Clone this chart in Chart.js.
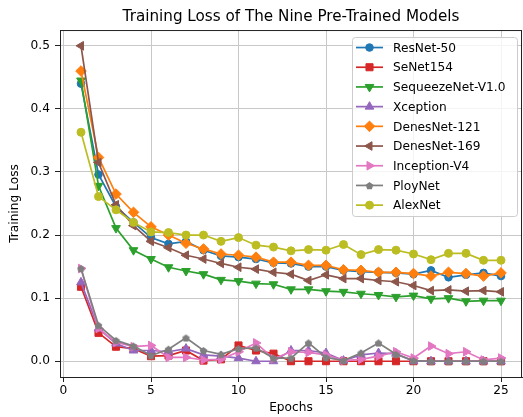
<!DOCTYPE html>
<html>

<head>
    <title>Training Loss</title>
    <script src="https://cdn.jsdelivr.net/npm/chart.js"></script>
    <style>
        body {
            margin: 0;
            background: #fff;
        }
    </style>
</head>

<body>
    <canvas id="lossChart" width="523" height="417"></canvas>

    <script>
        // epochs 1..25
        const epochs = [1, 2, 3, 4, 5, 6, 7, 8, 9, 10, 11, 12, 13, 14, 15, 16, 17, 18, 19, 20, 21, 22, 23, 24, 25];
        const xTicks = [0, 5, 10, 15, 20, 25];
        const yTicks = [0.0, 0.1, 0.2, 0.3, 0.4, 0.5];

        const resnet50 = [0.44, 0.296, 0.245, 0.22, 0.196, 0.186, 0.19, 0.176, 0.167, 0.165, 0.162, 0.156, 0.155, 0.15, 0.15, 0.144, 0.142, 0.141, 0.14, 0.138, 0.144, 0.133, 0.137, 0.14, 0.135];
        const senet154 = [0.118, 0.045, 0.023, 0.02, 0.008, 0.009, 0.017, 0.001, 0.003, 0.025, 0.017, 0.012, 0, 0, 0, 0, 0, 0, 0, 0, 0, 0, 0, 0, 0];
        const squeezeNet = [0.445, 0.278, 0.211, 0.176, 0.162, 0.149, 0.143, 0.138, 0.129, 0.127, 0.123, 0.122, 0.114, 0.114, 0.111, 0.11, 0.107, 0.105, 0.102, 0.104, 0.099, 0.1, 0.095, 0.096, 0.096];
        const xception = [0.125, 0.052, 0.028, 0.017, 0.017, 0.015, 0.02, 0.01, 0.008, 0.005, 0, 0, 0.017, 0.017, 0.013, 0.001, 0.01, 0.013, 0.012, 0, 0, 0, 0, 0, 0];
        const densenet121 = [0.46, 0.323, 0.265, 0.236, 0.213, 0.2, 0.187, 0.178, 0.17, 0.168, 0.165, 0.157, 0.157, 0.152, 0.152, 0.145, 0.144, 0.141, 0.141, 0.139, 0.135, 0.141, 0.139, 0.135, 0.14];
        const densenet169 = [0.5, 0.315, 0.248, 0.215, 0.19, 0.18, 0.168, 0.162, 0.155, 0.149, 0.146, 0.141, 0.138, 0.128, 0.137, 0.131, 0.131, 0.128, 0.126, 0.12, 0.112, 0.113, 0.111, 0.112, 0.11];
        const inceptionV4 = [0.147, 0.052, 0.03, 0.023, 0.025, 0.006, 0.006, 0.002, 0.003, 0.015, 0.029, 0.004, 0.015, 0.014, 0.01, 0.001, 0.003, 0.008, 0.015, 0.005, 0.024, 0.012, 0.015, 0.002, 0.005];
        const ployNet = [0.147, 0.057, 0.033, 0.024, 0.009, 0.019, 0.037, 0.017, 0.011, 0.02, 0.021, 0.005, 0.005, 0.029, 0.006, 0.001, 0.013, 0.029, 0.011, 0.001, 0, 0, 0, 0, 0];
        const alexNet = [0.363, 0.261, 0.24, 0.22, 0.205, 0.204, 0.2, 0.2, 0.19, 0.196, 0.184, 0.181, 0.175, 0.177, 0.176, 0.185, 0.169, 0.177, 0.176, 0.17, 0.161, 0.171, 0.171, 0.16, 0.16];

        const FONT = "'DejaVu Sans', sans-serif";

        // small pentagon marker (matplotlib 'p')
        function pentagon(color, size) {
            const c = document.createElement('canvas');
            c.width = size;
            c.height = size;
            const g = c.getContext('2d');
            const r = size / 2 - 0.5;
            g.beginPath();
            for (let i = 0; i < 5; i++) {
                const a = -Math.PI / 2 + i * 2 * Math.PI / 5;
                const px = size / 2 + r * Math.cos(a);
                const py = size / 2 + r * Math.sin(a) + 0.5;
                if (i === 0) g.moveTo(px, py); else g.lineTo(px, py);
            }
            g.closePath();
            g.fillStyle = color;
            g.fill();
            return c;
        }

        function series(label, data, color, style, radius, rotation) {
            return {
                label: label,
                data: data.map((v, i) => ({ x: epochs[i], y: v })),
                borderColor: color,
                backgroundColor: color,
                borderWidth: 1.7,
                pointStyle: style,
                pointRadius: radius,
                pointRotation: rotation || 0,
                pointBorderWidth: 1,
                pointBorderColor: color,
                pointBackgroundColor: color,
                tension: 0,
                fill: false
            };
        }

        const datasets = [
            series('ResNet-50', resnet50, '#1f77b4', 'circle', 3.8),
            series('SeNet154', senet154, '#d62728', 'rect', 5),
            series('SequeezeNet-V1.0', squeezeNet, '#2ca02c', 'triangle', 5, 180),
            series('Xception', xception, '#9467bd', 'triangle', 5, 0),
            series('DenesNet-121', densenet121, '#ff7f0e', 'rectRot', 5.3),
            series('DenesNet-169', densenet169, '#8c564b', 'triangle', 5, 270),
            series('Inception-V4', inceptionV4, '#e377c2', 'triangle', 5, 90),
            series('PloyNet', ployNet, '#7f7f7f', pentagon('#7f7f7f', 9), 4.5),
            series('AlexNet', alexNet, '#bcbd22', 'circle', 4)
        ];
        // later series on top, like matplotlib
        datasets.forEach((d, i) => { d.order = datasets.length - i; });

        // top/right spines plus the boxed legend in the upper right
        const frameLegend = {
            id: 'frameLegend',
            afterDatasetsDraw(chart) {
                const ctx = chart.ctx;
                const a = chart.chartArea;
                ctx.save();
                ctx.strokeStyle = '#222';
                ctx.lineWidth = 1;
                ctx.beginPath();
                ctx.moveTo(a.left, a.top + 0.5);
                ctx.lineTo(a.right, a.top + 0.5);
                ctx.moveTo(a.right - 0.5, a.top);
                ctx.lineTo(a.right - 0.5, a.bottom);
                ctx.stroke();

                const x0 = a.right - 170, y0 = a.top + 7;
                const w = 165, h = 179, rowH = 19.7;
                ctx.beginPath();
                ctx.roundRect(x0 + 0.5, y0 + 0.5, w, h, 3);
                ctx.fillStyle = 'rgba(255,255,255,0.8)';
                ctx.fill();
                ctx.strokeStyle = '#cccccc';
                ctx.stroke();

                ctx.font = '12.2px ' + FONT;
                ctx.textBaseline = 'middle';
                chart.data.datasets.forEach((ds, i) => {
                    const cy = y0 + 10.5 + i * rowH;
                    ctx.strokeStyle = ds.borderColor;
                    ctx.fillStyle = ds.backgroundColor;
                    ctx.lineWidth = 1.7;
                    ctx.beginPath();
                    ctx.moveTo(x0 + 4, cy);
                    ctx.lineTo(x0 + 31, cy);
                    ctx.stroke();
                    ctx.lineWidth = 1;
                    Chart.helpers.drawPoint(ctx, {
                        pointStyle: ds.pointStyle,
                        rotation: ds.pointRotation,
                        radius: ds.pointRadius,
                        borderWidth: 1
                    }, x0 + 17.5, cy);
                    ctx.fillStyle = '#000';
                    ctx.fillText(ds.label, x0 + 41, cy + 1);
                });
                ctx.restore();
            }
        };

        const ctx = document.getElementById('lossChart').getContext('2d');
        const lossChart = new Chart(ctx, {
            type: 'line',
            data: { datasets: datasets },
            plugins: [frameLegend],
            options: {
                responsive: false,
                animation: false,
                layout: {
                    autoPadding: false,
                    padding: { top: 0, right: 1, bottom: 0, left: 0 }
                },
                plugins: {
                    legend: { display: false },
                    tooltip: { enabled: false },
                    title: {
                        display: true,
                        fullSize: false,
                        text: 'Training Loss of The Nine Pre-Trained Models',
                        color: '#000',
                        font: { family: FONT, size: 15.2, weight: 'normal' },
                        padding: { top: 7.5, bottom: 4.3 }
                    }
                },
                scales: {
                    x: {
                        type: 'linear',
                        min: -0.2,
                        max: 26.2,
                        afterBuildTicks: s => { s.ticks = xTicks.map(v => ({ value: v })); },
                        afterFit: s => {
                            s.height = 40;
                            s.paddingLeft = 0;
                            s.paddingRight = 0;
                        },
                        ticks: {
                            color: '#000',
                            padding: 2,
                            font: { family: FONT, size: 12.2 },
                            callback: v => String(v)
                        },
                        grid: { color: '#c8c8c8', lineWidth: 1, tickLength: 5, tickColor: '#222' },
                        border: { color: '#222', width: 1 },
                        title: {
                            display: true,
                            text: 'Epochs',
                            color: '#000',
                            font: { family: FONT, size: 12.2 },
                            padding: { top: 0, bottom: 1.5 }
                        }
                    },
                    y: {
                        min: -0.025,
                        max: 0.525,
                        afterBuildTicks: s => { s.ticks = yTicks.map(v => ({ value: v })); },
                        afterFit: s => {
                            s.width = 60;
                            s.paddingTop = 0;
                            s.paddingBottom = 0;
                        },
                        ticks: {
                            color: '#000',
                            padding: 5,
                            font: { family: FONT, size: 12.2 },
                            callback: v => v.toFixed(1)
                        },
                        grid: { color: '#c8c8c8', lineWidth: 1, tickLength: 5, tickColor: '#222' },
                        border: { color: '#222', width: 1 },
                        title: {
                            display: true,
                            text: 'Training Loss',
                            color: '#000',
                            font: { family: FONT, size: 12.2 },
                            padding: { top: 8, bottom: 0 }
                        }
                    }
                }
            }
        });
    </script>
</body>

</html>
